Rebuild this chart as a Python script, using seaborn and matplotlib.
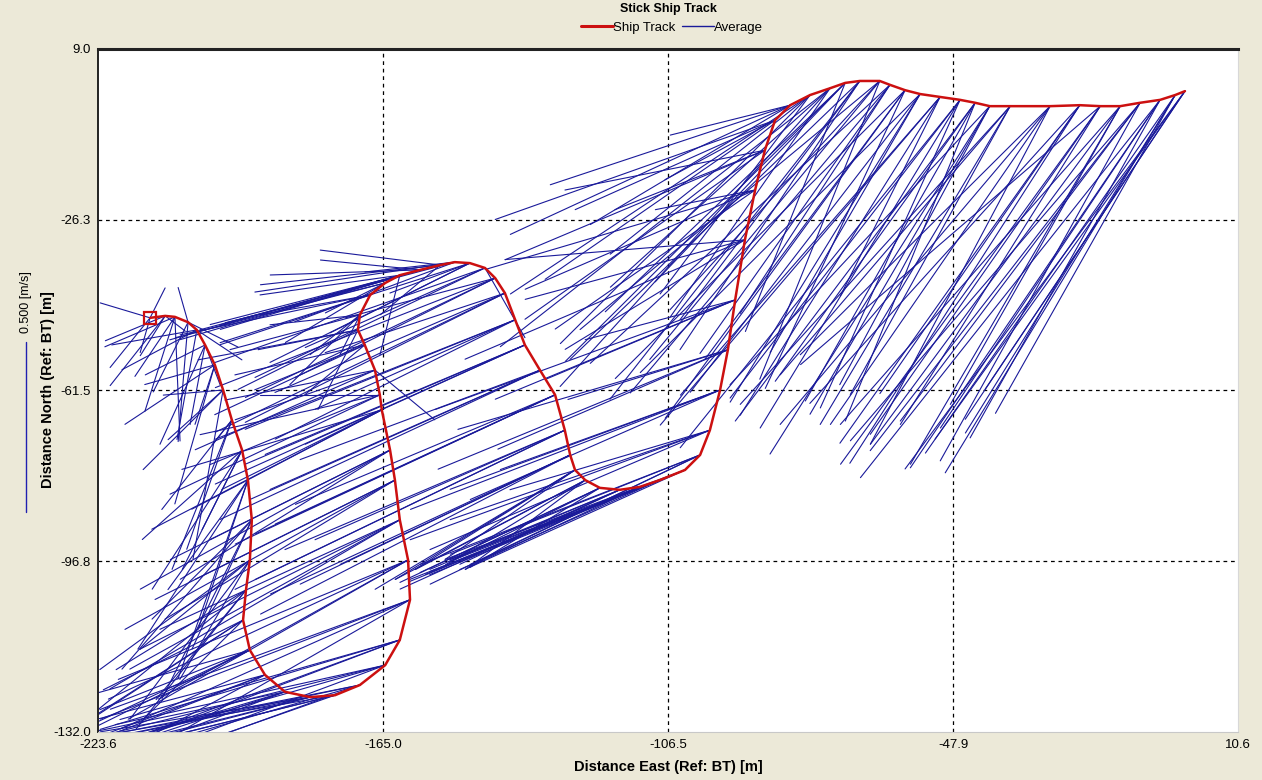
import numpy as np
import pandas as pd
import matplotlib
matplotlib.use("Agg")
import matplotlib.pyplot as plt
import seaborn as sns
from matplotlib.lines import Line2D

# ---------------- data ----------------
track_east = [-212.9, -209.8, -207.8, -205.1, -203.3, -201.6, -199.6, -197.9, -196.1, -194.0,
              -192.8, -192.0, -192.4, -193.2, -193.8, -192.4, -189.3, -185.2, -180.0, -174.9,
              -169.8, -164.6, -161.6, -159.5, -159.9, -161.6, -162.6, -163.6, -165.3, -165.7,
              -166.7, -168.8, -170.2, -169.8, -167.7, -164.6, -161.6, -157.4, -153.3, -150.3,
              -147.2, -144.1, -142.0, -140.0, -137.9, -135.9, -132.8, -129.7, -127.7, -126.6,
              -125.6, -123.5, -120.5, -116.4, -112.3, -108.2, -103.0, -99.9, -97.9, -95.8,
              -94.2, -92.7, -90.7, -88.6, -86.6, -84.5, -81.4, -77.3, -73.2, -70.1,
              -67.1, -63.0, -60.9, -57.8, -54.7, -50.6, -46.5, -43.4, -40.4, -36.2,
              -28.0, -21.9, -17.7, -13.6, -9.5, -5.4, -2.3, -0.3]
track_north = [-46.5, -46.1, -46.3, -47.4, -49.0, -52.1, -56.2, -61.4, -67.6, -73.8,
               -80.0, -88.2, -96.5, -102.7, -108.9, -115.1, -120.2, -123.7, -124.8, -124.4,
               -122.3, -118.2, -113.0, -104.7, -96.5, -88.2, -80.0, -73.8, -65.5, -62.4,
               -57.3, -52.1, -49.0, -45.9, -41.8, -39.3, -37.7, -36.6, -35.6, -35.0,
               -35.2, -36.2, -38.3, -41.4, -46.9, -52.1, -57.3, -62.4, -69.7, -74.8,
               -77.9, -80.0, -81.6, -82.0, -81.4, -80.0, -77.9, -74.8, -69.7, -61.4,
               -53.1, -42.8, -30.4, -20.1, -11.9, -5.7, -2.6, -0.5, 0.9, 2.0,
               2.4, 2.4, 1.6, 0.5, -0.3, -0.9, -1.5, -2.1, -2.8, -2.8,
               -2.8, -2.6, -2.8, -2.8, -2.1, -1.5, -0.5, 0.3]

# depth-averaged velocity (cm/s), four ensembles per track position
vel_east_a = [-14.6, -7.3, 1.5, -2.9, -5.8, -17.5, -20.5, -16.1, -20.5, -17.5,
              -23.4, -29.2, -32.2, -38.0, -40.9, -43.9, -49.7, -55.6, -61.4, -67.3,
              -73.1, -79.0, -81.9, -87.7, -84.8, -79.0, -70.2, -64.3, -58.5, -52.6,
              -43.9, -38.0, -29.2, -26.3, -32.2, -46.8, -52.6, -58.5, -67.3, -74.6,
              -58.5, -67.3, -73.1, -76.0, -79.0, -81.9, -84.8, -87.7, -90.6, -87.7,
              -38.0, -40.9, -43.9, -49.7, -55.6, -61.4, -70.2, -73.1, -76.0, -79.0,
              -67.3, -55.6, -52.6, -58.5, -70.2, -67.3, -58.5, -73.1, -79.0, -81.9,
              -73.1, -87.7, -76.0, -70.2, -81.9, -58.5, -67.3, -58.5, -76.0, -67.3,
              -64.3, -79.0, -67.3, -73.1, -70.2, -73.1, -61.4, -64.3]
vel_north_a = [4.4, -11.7, -36.5, 10.2, -32.2, -8.8, -5.8, -14.6, -26.3, -35.1,
               -32.2, -29.2, -26.3, -23.4, -20.5, -17.5, -13.2, -11.7, -10.2, -11.7,
               -14.6, -17.5, -23.4, -32.2, -35.1, -43.9, -35.1, -32.2, -17.5, -11.7,
               -8.8, -8.8, -5.8, -2.9, -5.8, -11.7, -14.6, -17.5, -17.5, -19.9,
               -29.2, -32.2, -35.1, -38.0, -32.2, -35.1, -38.0, -40.9, -43.9, -40.9,
               -26.3, -24.9, -21.9, -20.5, -21.9, -23.4, -26.3, -29.2, -26.3, -29.2,
               -29.2, -23.4, -32.2, -40.9, -49.7, -46.8, -35.1, -73.1, -87.7, -81.9,
               -93.6, -73.1, -90.6, -96.5, -81.9, -93.6, -87.7, -81.9, -81.9, -79.0,
               -93.6, -87.7, -96.5, -99.4, -93.6, -108.2, -99.4, -96.5]
vel_east_b = [-2.9, 5.8, -11.7, 14.6, 13.2, -4.4, -11.7, -17.5, -5.8, -11.7,
              -14.6, -17.5, -20.5, -26.3, -29.2, -46.8, -46.8, -43.9, -58.5, -64.3,
              -70.2, -76.0, -79.0, -84.8, -73.1, -70.2, -58.5, -52.6, -46.8, -35.1,
              17.5, -17.5, -11.7, -14.6, -8.8, -17.5, -5.8, -29.2, -35.1, -26.3,
              -23.4, 11.7, -43.9, -52.6, -58.5, -64.3, -70.2, -76.0, -81.9, -79.0,
              -58.5, -35.1, -38.0, -46.8, -49.7, -58.5, -64.3, -67.3, -58.5, -64.3,
              -46.8, -43.9, -70.2, -29.2, -43.9, -32.2, -35.1, -43.9, -46.8, -29.2,
              -52.6, -35.1, -55.6, -40.9, -43.9, -29.2, -40.9, -38.0, -52.6, -46.8,
              -73.1, -58.5, -87.7, -49.7, -58.5, -55.6, -67.3, -81.9]
vel_north_b = [-10.2, -4.4, -17.5, -7.3, -8.8, -23.4, -40.9, -1.5, -7.3, -23.4,
               -43.9, -38.0, -35.1, -32.2, -29.2, -23.4, -17.5, -14.6, -14.6, -16.1,
               -20.5, -21.9, -29.2, -38.0, -40.9, -32.2, -29.2, -26.3, -23.4, 0.0,
               -14.6, -14.6, -23.4, -11.7, -17.5, -8.8, -23.4, 2.9, 4.4, -2.9,
               -8.8, -20.5, -11.7, -17.5, -26.3, -29.2, -26.3, -32.2, -35.1, -38.0,
               -35.1, -26.3, -23.4, -21.9, -23.4, -26.3, -29.2, -32.2, -17.5, -23.4,
               -14.6, -11.7, -5.8, -5.8, -17.5, -17.5, -8.8, -58.5, -67.3, -73.1,
               -79.0, -87.7, -79.0, -87.7, -76.0, -58.5, -90.6, -93.6, -90.6, -84.8,
               -73.1, -84.8, -76.0, -87.7, -105.3, -99.4, -111.1, -111.1]
vel_east_c = [-11.7, -17.5, -8.8, -2.9, -21.9, -13.2, -26.3, -8.8, -17.5, -26.3,
              -32.2, -38.0, -43.9, -46.8, -42.4, -46.8, -52.6, -58.5, -64.3, -70.2,
              -76.0, -81.9, -87.7, -90.6, -81.9, -76.0, -67.3, -61.4, -55.6, -49.7,
              -40.9, -32.2, -46.8, -38.0, -55.6, -61.4, -67.3, -43.9, -52.6, -58.5,
              -73.1, -79.0, -81.9, -67.3, -87.7, -90.6, -79.0, -93.6, -73.1, -67.3,
              -46.8, -49.7, -52.6, -55.6, -61.4, -67.3, -76.0, -81.9, -81.9, -73.1,
              -84.8, -70.2, -81.9, -67.3, -76.0, -58.5, -81.9, -58.5, -64.3, -70.2,
              -52.6, -67.3, -87.7, -58.5, -67.3, -76.0, -58.5, -70.2, -43.9, -79.0,
              -52.6, -67.3, -58.5, -81.9, -79.0, -64.3, -73.1, -58.5]
vel_north_c = [-14.6, -7.3, -27.8, -35.1, -11.7, -29.2, -17.5, -49.7, -43.9, -40.9,
               -49.7, -43.9, -32.2, -38.0, -27.8, -13.2, -20.5, -17.5, -13.2, -17.5,
               -16.1, -20.5, -26.3, -35.1, -46.8, -38.0, -40.9, -38.0, -29.2, -20.5,
               -14.6, -13.2, -8.8, -10.2, -11.7, -16.1, -19.0, -1.5, -5.8, -8.8,
               -23.4, -27.8, -32.2, -29.2, -35.1, -40.9, -35.1, -43.9, -32.2, -32.2,
               -29.2, -26.3, -24.9, -23.4, -24.9, -27.8, -30.7, -32.2, -35.1, -32.2,
               -35.1, -29.2, -35.1, -29.2, -32.2, -26.3, -38.0, -46.8, -58.5, -67.3,
               -70.2, -81.9, -81.9, -79.0, -87.7, -87.7, -96.5, -93.6, -81.9, -87.7,
               -99.4, -105.3, -93.6, -93.6, -102.3, -96.5, -105.3, -87.7]
vel_east_d = [4.4, -16.1, -20.5, -10.2, -24.9, 4.4, -5.8, -23.4, -13.2, -29.2,
              -20.5, -26.3, -35.1, -32.2, -49.7, -55.6, -40.9, -49.7, -67.3, -58.5,
              -64.3, -70.2, -84.8, -76.0, -87.7, -84.8, -79.0, -73.1, -67.3, -61.4,
              -52.6, -43.9, -35.1, -20.5, -43.9, -29.2, -40.9, -70.2, -17.5, -46.8,
              -40.9, -52.6, -58.5, -84.8, -70.2, -76.0, -93.6, -81.9, -96.5, -90.6,
              -52.6, -55.6, -58.5, -64.3, -67.3, -73.1, -58.5, -79.0, -87.7, -90.6,
              -79.0, -87.7, -64.3, -79.0, -58.5, -81.9, -70.2, -87.7, -96.5, -55.6,
              -84.8, -61.4, -43.9, -84.8, -55.6, -81.9, -81.9, -49.7, -64.3, -55.6,
              -79.0, -70.2, -76.0, -61.4, -84.8, -87.7, -52.6, -73.1]
vel_north_d = [8.8, -20.5, -8.8, -20.5, -4.4, -11.7, -17.5, -23.4, -38.0, -26.3,
               -58.5, -52.6, -46.8, -40.9, -32.2, -26.3, -21.9, -19.0, -17.5, -20.5,
               -23.4, -26.3, -32.2, -43.9, -40.9, -49.7, -43.9, -40.9, -35.1, -29.2,
               -23.4, -20.5, -17.5, -20.5, -14.6, -17.5, -5.8, -20.5, -14.6, -17.5,
               -20.5, -23.4, -29.2, -40.9, -35.1, -32.2, -43.9, -38.0, -46.8, -46.8,
               -32.2, -29.2, -27.8, -29.2, -27.8, -29.2, -23.4, -38.0, -32.2, -35.1,
               -23.4, -32.2, -17.5, -23.4, -11.7, -29.2, -23.4, -58.5, -76.0, -58.5,
               -81.9, -67.3, -67.3, -84.8, -90.6, -96.5, -102.3, -87.7, -102.3, -93.6,
               -93.6, -99.4, -105.3, -105.3, -99.4, -111.1, -93.6, -102.3]

x_ticks = [-223.6, -165.0, -106.5, -47.9, 10.6]
y_ticks = [9.0, -26.3, -61.5, -96.8, -132.0]
scale_value = 0.500          # m/s, reference stick
meters_per_cms = 0.702       # stick length in metres for 1 cm/s

# ---------------- build stick table ----------------
rows = []
sid = 0
for ue, vn in ((vel_east_a, vel_north_a), (vel_east_b, vel_north_b),
               (vel_east_c, vel_north_c), (vel_east_d, vel_north_d)):
    for e, n, u, v in zip(track_east, track_north, ue, vn):
        rows.append((sid, e, n))
        rows.append((sid, e + u * meters_per_cms, n + v * meters_per_cms))
        sid += 1
sticks = pd.DataFrame(rows, columns=["stick", "east", "north"])
track = pd.DataFrame({"east": track_east, "north": track_north})

# ---------------- figure ----------------
sns.set_theme(style="white")
plt.rcParams['font.family'] = ['Liberation Sans', 'DejaVu Sans']
plt.rcParams['text.color'] = 'black'
plt.rcParams['xtick.color'] = 'black'
plt.rcParams['ytick.color'] = 'black'

bg = '#ECE9D8'
stick_color = '#1a1a9a'
track_color = '#cc1010'
fig = plt.figure(figsize=(12.62, 7.8), dpi=100, facecolor=bg)
ax = fig.add_axes([98/1262, 1 - 732/780, (1238-98)/1262, (732-49)/780])
ax.set_facecolor('white')

sns.lineplot(data=sticks, x="east", y="north", units="stick", estimator=None,
             sort=False, color=stick_color, lw=0.8, ax=ax, legend=False)
sns.lineplot(data=track, x="east", y="north", estimator=None, sort=False,
             color=track_color, lw=1.8, ax=ax, legend=False)
ax.plot(track_east[0], track_north[0], marker='s', mfc='none', mec=track_color,
        ms=8, mew=1.6, zorder=5)

ax.set_xlim(x_ticks[0], x_ticks[-1])
ax.set_ylim(y_ticks[-1], y_ticks[0])
ax.set_xticks(x_ticks)
ax.set_yticks(y_ticks)
ax.set_xticklabels([f"{t:.1f}" for t in x_ticks], fontsize=9.5)
ax.set_yticklabels([f"{t:.1f}" for t in y_ticks], fontsize=9.5)
ax.tick_params(axis='both', length=3, width=0.8, color='black', pad=2)
ax.set_xlabel("")
ax.set_ylabel("")

for t in x_ticks[1:-1]:
    ax.axvline(t, color='black', lw=0.9, ls=(0, (3, 3)), zorder=0.5)
for t in y_ticks[1:-1]:
    ax.axhline(t, color='black', lw=0.9, ls=(0, (3, 3)), zorder=0.5)

ax.spines['top'].set_color('#222222'); ax.spines['top'].set_linewidth(2.2)
ax.spines['left'].set_color('#222222'); ax.spines['left'].set_linewidth(1.4)
ax.spines['right'].set_color('#d8d8d8'); ax.spines['right'].set_linewidth(0.8)
ax.spines['bottom'].set_color('#c8c8c8'); ax.spines['bottom'].set_linewidth(0.8)

# title and legend
fig.text(668/1262, 1 - 9/780, "Stick Ship Track", ha='center', va='center',
         fontsize=9, fontweight='bold')
handles = [Line2D([], [], color=track_color, lw=2.2), Line2D([], [], color=stick_color, lw=1)]
fig.legend(handles, ["Ship Track", "Average"], loc='center', ncol=2,
           bbox_to_anchor=(672/1262, 1 - 28/780), frameon=False, fontsize=9.5,
           handlelength=2.4, handletextpad=0.0, columnspacing=0.5, borderpad=0)

# axis labels
fig.text(668/1262, 1 - 767/780, "Distance East (Ref: BT) [m]", ha='center', va='center',
         fontsize=10.5, fontweight='bold')
fig.text(48/1262, 1 - 390/780, "Distance North (Ref: BT) [m]", ha='center', va='center',
         rotation=90, fontsize=10.5, fontweight='bold')

# scale stick
scale_len_m = scale_value * 100 * meters_per_cms
y_top = 1 - 342/780
bar_frac = scale_len_m / (y_ticks[0] - y_ticks[-1]) * (732-49)/780
fig.add_artist(Line2D([26/1262, 26/1262], [y_top, y_top - bar_frac], color='#2020b0', lw=1))
fig.text(26/1262, 1 - 302/780, f"{scale_value:.3f} [m/s]", ha='center', va='center',
         rotation=90, fontsize=9)

fig.savefig("out.png", dpi=100, facecolor=bg)
